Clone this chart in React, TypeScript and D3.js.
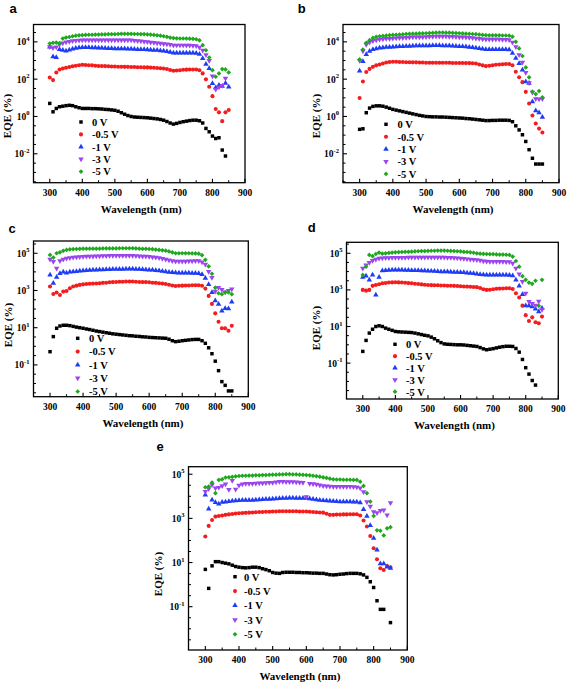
import React from "react";
import * as d3 from "d3";

// Wavelength grid (nm)
const WAVELENGTH = [
  300, 310, 320, 330, 340, 350, 360, 370, 380, 390,
  400, 410, 420, 430, 440, 450, 460, 470, 480, 490,
  500, 510, 520, 530, 540, 550, 560, 570, 580, 590,
  600, 610, 620, 630, 640, 650, 660, 670, 680, 690,
  700, 710, 720, 730, 740, 750, 760, 770, 780, 790,
  800, 810, 820, 830, 840, 850,
];

const X_TICKS = [300, 400, 500, 600, 700, 800, 900];
const X_MINOR = [250, 350, 450, 550, 650, 750, 850];
const SERIES_LABELS = ["0 V", "-0.5 V", "-1 V", "-3 V", "-5 V"];
const SERIES_COLORS = ["#000000", "#f41c1c", "#1f3cf5", "#9b45f0", "#1ea81e"];

// Values are log10 of EQE (%); null = no point
// ---- panel a ----
const A_0V = [
  0.70, 0.25, 0.43, 0.52, 0.55, 0.58, 0.60, 0.58, 0.52, 0.47,
  0.43, 0.43, 0.43, 0.42, 0.42, 0.41, 0.40, 0.38, 0.37, 0.35,
  0.33, 0.28, 0.20, 0.12, 0.05, 0.00, -0.03, -0.04, -0.05, -0.06,
  -0.07, -0.09, -0.11, -0.13, -0.16, -0.20, -0.27, -0.35, -0.41, -0.37,
  -0.32, -0.28, -0.25, -0.22, -0.20, -0.20, -0.23, -0.35, -0.64, -0.82,
  -1.05, -1.18, -1.14, -1.80, -2.12, null,
];
const A_05V = [
  2.09, 1.95, 2.36, 2.52, 2.57, 2.61, 2.65, 2.69, 2.72, 2.75,
  2.77, 2.76, 2.75, 2.74, 2.72, 2.71, 2.70, 2.70, 2.69, 2.68,
  2.68, 2.67, 2.67, 2.66, 2.66, 2.65, 2.65, 2.64, 2.64, 2.63,
  2.63, 2.62, 2.61, 2.60, 2.58, 2.57, 2.54, 2.49, 2.45, 2.46,
  2.48, 2.50, 2.51, 2.52, 2.52, 2.52, 2.48, 2.31, 1.99, 1.59,
  1.09, 0.40, 0.22, -0.25, 0.22, 0.35,
];
const A_1V = [
  3.73, 3.20, 3.16, 3.59, 3.55, 3.52, 3.57, 3.62, 3.66, 3.69,
  3.70, 3.70, 3.70, 3.69, 3.69, 3.68, 3.67, 3.66, 3.65, 3.65,
  3.64, 3.64, 3.63, 3.63, 3.62, 3.62, 3.61, 3.60, 3.60, 3.59,
  3.58, 3.57, 3.56, 3.55, 3.53, 3.52, 3.49, 3.45, 3.41, 3.41,
  3.41, 3.41, 3.41, 3.41, 3.41, 3.40, 3.34, 3.11, 2.80, 2.57,
  1.77, 1.54, 1.68, 1.62, 1.78, 1.58,
];
const A_3V = [
  3.73, 3.68, 3.72, 3.86, 3.94, 3.99, 4.02, 4.05, 4.07, 4.08,
  4.09, 4.09, 4.10, 4.10, 4.10, 4.10, 4.10, 4.10, 4.10, 4.10,
  4.10, 4.10, 4.10, 4.10, 4.09, 4.09, 4.07, 4.05, 4.04, 4.02,
  4.00, 3.98, 3.96, 3.94, 3.92, 3.90, 3.88, 3.85, 3.82, 3.82,
  3.82, 3.82, 3.81, 3.81, 3.80, 3.79, 3.70, 3.55, 3.30, 3.00,
  2.16, 1.45, 1.58, 1.66, 2.05, null,
];
const A_5V = [
  3.91, 3.95, 3.96, 3.93, 4.18, 4.23, 4.26, 4.30, 4.33, 4.35,
  4.36, 4.37, 4.38, 4.38, 4.39, 4.39, 4.40, 4.40, 4.41, 4.41,
  4.41, 4.42, 4.43, 4.43, 4.43, 4.43, 4.42, 4.42, 4.41, 4.41,
  4.40, 4.39, 4.37, 4.35, 4.33, 4.30, 4.27, 4.23, 4.20, 4.19,
  4.18, 4.18, 4.18, 4.17, 4.16, 4.14, 4.08, 3.82, 3.55, 3.16,
  2.48, 2.13, 2.31, 2.54, 2.52, 2.36,
];

// ---- panel b ----
const B_0V = [
  -0.69, -0.66, 0.20, 0.45, 0.54, 0.57, 0.57, 0.55, 0.50, 0.44,
  0.38, 0.34, 0.30, 0.26, 0.22, 0.18, 0.14, 0.10, 0.06, 0.03,
  0.00, -0.01, -0.02, -0.02, -0.03, -0.03, -0.04, -0.05, -0.06, -0.07,
  -0.08, -0.09, -0.11, -0.12, -0.14, -0.16, -0.18, -0.20, -0.22, -0.22,
  -0.21, -0.21, -0.20, -0.20, -0.20, -0.21, -0.28, -0.50, -0.72, -0.98,
  -1.34, -1.78, -2.24, -2.55, -2.55, -2.55,
];
const B_05V = [
  0.99, 1.87, 2.38, 2.55, 2.66, 2.74, 2.79, 2.84, 2.89, 2.92,
  2.93, 2.93, 2.92, 2.92, 2.91, 2.91, 2.90, 2.90, 2.89, 2.89,
  2.88, 2.88, 2.88, 2.88, 2.88, 2.88, 2.88, 2.88, 2.87, 2.87,
  2.87, 2.87, 2.86, 2.86, 2.85, 2.84, 2.79, 2.74, 2.70, 2.72,
  2.75, 2.77, 2.79, 2.80, 2.81, 2.81, 2.75, 2.40, 2.10, 1.84,
  1.32, 0.70, 0.05, -0.38, -0.65, -0.86,
];
const B_1V = [
  2.44, 2.95, 3.33, 3.50, 3.59, 3.64, 3.67, 3.69, 3.71, 3.72,
  3.73, 3.74, 3.75, 3.76, 3.77, 3.77, 3.78, 3.79, 3.79, 3.80,
  3.80, 3.80, 3.81, 3.81, 3.81, 3.80, 3.80, 3.79, 3.78, 3.77,
  3.76, 3.75, 3.74, 3.72, 3.70, 3.68, 3.65, 3.62, 3.59, 3.59,
  3.59, 3.59, 3.59, 3.59, 3.59, 3.58, 3.40, 3.12, 2.84, 2.50,
  1.86, 1.78, 0.80, 0.31, 0.20, -0.04,
];
const B_3V = [
  3.00, 3.50, 3.85, 3.98, 4.05, 4.10, 4.13, 4.15, 4.17, 4.18,
  4.19, 4.20, 4.21, 4.22, 4.23, 4.24, 4.25, 4.25, 4.26, 4.26,
  4.27, 4.28, 4.28, 4.29, 4.29, 4.29, 4.29, 4.28, 4.28, 4.27,
  4.26, 4.25, 4.24, 4.23, 4.21, 4.19, 4.17, 4.15, 4.14, 4.13,
  4.13, 4.13, 4.13, 4.12, 4.12, 4.11, 3.97, 3.73, 3.30, 2.90,
  2.35, 1.80, 1.30, 0.95, 0.93, 0.95,
];
const B_5V = [
  3.06, 3.59, 3.95, 4.09, 4.21, 4.27, 4.30, 4.32, 4.34, 4.36,
  4.37, 4.38, 4.39, 4.40, 4.42, 4.43, 4.44, 4.44, 4.45, 4.45,
  4.46, 4.47, 4.48, 4.49, 4.50, 4.50, 4.49, 4.49, 4.48, 4.47,
  4.46, 4.45, 4.44, 4.43, 4.42, 4.41, 4.39, 4.37, 4.36, 4.35,
  4.35, 4.35, 4.35, 4.34, 4.34, 4.33, 4.28, 4.00, 3.65, 3.24,
  2.63, 2.10, 1.33, 1.20, 1.36, 1.03,
];

// ---- panel c ----
const C_0V = [
  -0.29, 0.52, 0.97, 1.09, 1.13, 1.13, 1.11, 1.07, 1.03, 1.00,
  0.97, 0.93, 0.90, 0.86, 0.82, 0.79, 0.76, 0.73, 0.70, 0.67,
  0.65, 0.63, 0.61, 0.59, 0.57, 0.56, 0.54, 0.53, 0.51, 0.50,
  0.48, 0.47, 0.46, 0.45, 0.44, 0.43, 0.38, 0.30, 0.25, 0.27,
  0.30, 0.32, 0.34, 0.36, 0.37, 0.37, 0.30, 0.16, -0.08, -0.40,
  -0.80, -1.31, -1.90, -2.10, -2.40, -2.40,
];
const C_05V = [
  3.21, 2.81, 2.89, 2.76, 2.94, 2.97, 3.12, 3.21, 3.26, 3.30,
  3.33, 3.35, 3.36, 3.37, 3.38, 3.39, 3.41, 3.42, 3.44, 3.45,
  3.46, 3.47, 3.47, 3.48, 3.48, 3.48, 3.47, 3.46, 3.45, 3.45,
  3.44, 3.42, 3.41, 3.39, 3.37, 3.35, 3.31, 3.27, 3.24, 3.25,
  3.26, 3.27, 3.27, 3.28, 3.28, 3.28, 3.25, 3.10, 2.71, 2.28,
  1.77, 1.32, 0.97, 0.97, 0.84, 1.10,
];
const C_1V = [
  3.84, 3.39, 3.71, 3.92, 4.00, 3.95, 4.00, 4.01, 4.03, 4.05,
  4.07, 4.08, 4.09, 4.10, 4.11, 4.12, 4.12, 4.13, 4.13, 4.14,
  4.14, 4.15, 4.15, 4.16, 4.16, 4.16, 4.15, 4.14, 4.13, 4.12,
  4.11, 4.10, 4.08, 4.06, 4.04, 4.01, 3.99, 3.97, 3.96, 3.95,
  3.95, 3.94, 3.94, 3.93, 3.93, 3.92, 3.87, 3.66, 3.32, 2.90,
  2.45, 2.27, 1.90, 2.04, 2.02, 2.38,
];
const C_3V = [
  4.68, 4.55, 4.19, 4.60, 4.67, 4.73, 4.76, 4.78, 4.80, 4.81,
  4.82, 4.83, 4.84, 4.84, 4.85, 4.85, 4.86, 4.86, 4.87, 4.87,
  4.87, 4.87, 4.87, 4.87, 4.87, 4.87, 4.86, 4.85, 4.84, 4.83,
  4.82, 4.80, 4.78, 4.75, 4.72, 4.68, 4.64, 4.60, 4.57, 4.57,
  4.57, 4.57, 4.58, 4.58, 4.59, 4.59, 4.52, 4.40, 4.01, 3.69,
  2.95, 3.15, 3.05, 2.92, 3.00, 3.08,
];
const C_5V = [
  4.91, 4.77, 5.00, 5.05, 5.13, 5.18, 5.21, 5.22, 5.23, 5.24,
  5.25, 5.25, 5.25, 5.25, 5.25, 5.25, 5.26, 5.26, 5.26, 5.26,
  5.26, 5.27, 5.27, 5.27, 5.27, 5.27, 5.26, 5.25, 5.24, 5.24,
  5.23, 5.22, 5.20, 5.18, 5.16, 5.14, 5.10, 5.05, 5.00, 5.00,
  5.00, 5.00, 5.00, 4.99, 4.99, 4.98, 4.90, 4.65, 4.30, 3.90,
  3.15, 2.85, 2.80, 2.90, 2.90, 2.80,
];

// ---- panel d ----
const D_0V = [
  -0.36, 0.24, 0.64, 0.85, 1.00, 1.04, 1.00, 0.91, 0.85, 0.79,
  0.73, 0.71, 0.70, 0.69, 0.68, 0.67, 0.64, 0.60, 0.56, 0.52,
  0.49, 0.42, 0.33, 0.22, 0.12, 0.05, 0.03, 0.02, 0.01, 0.00,
  0.00, -0.01, -0.03, -0.05, -0.07, -0.09, -0.15, -0.22, -0.27, -0.24,
  -0.21, -0.17, -0.13, -0.10, -0.08, -0.08, -0.09, -0.20, -0.40, -0.80,
  -1.25, -1.60, -1.95, -2.20, null, null,
];
const D_05V = [
  3.00, 2.96, 3.00, 3.22, 3.27, 3.31, 3.36, 3.38, 3.40, 3.41,
  3.42, 3.41, 3.40, 3.39, 3.37, 3.36, 3.34, 3.32, 3.30, 3.28,
  3.27, 3.26, 3.25, 3.25, 3.24, 3.24, 3.23, 3.23, 3.22, 3.21,
  3.20, 3.19, 3.18, 3.17, 3.16, 3.15, 3.10, 3.04, 3.00, 3.01,
  3.04, 3.06, 3.07, 3.08, 3.09, 3.09, 3.05, 2.82, 2.58, 2.14,
  1.62, 1.30, 1.50, 1.23, 1.18, 1.54,
];
const D_1V = [
  3.69, 3.76, 3.55, 3.82, 2.73, 3.69, 4.05, 4.07, 4.08, 4.09,
  4.09, 4.09, 4.09, 4.08, 4.08, 4.07, 4.07, 4.06, 4.05, 4.05,
  4.04, 4.03, 4.02, 4.01, 4.00, 4.00, 3.99, 3.98, 3.97, 3.97,
  3.96, 3.95, 3.93, 3.92, 3.90, 3.87, 3.85, 3.83, 3.82, 3.82,
  3.82, 3.82, 3.82, 3.82, 3.82, 3.81, 3.78, 3.55, 3.22, 2.75,
  2.14, 2.14, 2.08, 1.96, 1.81, 2.00,
];
const D_3V = [
  4.18, 4.36, 4.49, 4.60, 4.67, 4.73, 4.74, 4.75, 4.75, 4.76,
  4.76, 4.77, 4.77, 4.77, 4.78, 4.78, 4.78, 4.78, 4.78, 4.78,
  4.78, 4.78, 4.78, 4.78, 4.78, 4.78, 4.77, 4.76, 4.75, 4.74,
  4.73, 4.71, 4.69, 4.67, 4.66, 4.64, 4.61, 4.58, 4.56, 4.55,
  4.55, 4.54, 4.54, 4.54, 4.53, 4.53, 4.45, 4.18, 3.86, 3.45,
  2.81, 2.36, 2.25, 2.15, 2.38, 1.92,
];
const D_5V = [
  3.82, 4.27, 4.91, 4.85, 4.96, 5.04, 4.98, 5.00, 5.02, 5.04,
  5.05, 5.06, 5.07, 5.08, 5.08, 5.09, 5.10, 5.11, 5.12, 5.12,
  5.13, 5.14, 5.14, 5.15, 5.15, 5.15, 5.14, 5.13, 5.12, 5.11,
  5.10, 5.08, 5.07, 5.05, 5.03, 5.00, 4.98, 4.97, 4.96, 4.95,
  4.95, 4.94, 4.93, 4.93, 4.92, 4.91, 4.82, 4.58, 4.27, 3.75,
  3.55, 3.40, 3.33, 3.50, 2.13, 3.55,
];

// ---- panel e ----
const E_0V = [
  0.69, -0.17, 0.85, 1.04, 1.04, 1.00, 0.97, 0.94, 0.88, 0.82,
  0.79, 0.77, 0.76, 0.77, 0.79, 0.79, 0.77, 0.72, 0.68, 0.63,
  0.55, 0.52, 0.51, 0.55, 0.56, 0.56, 0.56, 0.55, 0.55, 0.54,
  0.54, 0.53, 0.52, 0.52, 0.51, 0.51, 0.48, 0.45, 0.44, 0.45,
  0.47, 0.48, 0.50, 0.51, 0.51, 0.51, 0.49, 0.44, 0.33, 0.13,
  -0.13, -0.73, -1.12, -1.12, null, -1.72,
];
const E_05V = [
  2.18, 2.66, 2.93, 3.08, 3.11, 3.13, 3.16, 3.18, 3.20, 3.22,
  3.23, 3.24, 3.25, 3.26, 3.27, 3.28, 3.29, 3.29, 3.30, 3.30,
  3.31, 3.31, 3.32, 3.32, 3.32, 3.32, 3.32, 3.32, 3.31, 3.31,
  3.31, 3.30, 3.29, 3.28, 3.27, 3.26, 3.21, 3.16, 3.16, 3.17,
  3.17, 3.18, 3.18, 3.19, 3.19, 3.19, 3.13, 2.90, 2.63, 2.20,
  1.65, 1.15, 0.74, 0.66, 0.84, 0.78,
];
const E_1V = [
  4.06, 3.43, 3.84, 3.72, 3.66, 3.73, 3.75, 3.77, 3.79, 3.80,
  3.81, 3.82, 3.82, 3.83, 3.83, 3.84, 3.85, 3.86, 3.87, 3.87,
  3.88, 3.89, 3.90, 3.91, 3.92, 3.93, 3.93, 3.92, 3.92, 3.91,
  3.91, 3.89, 3.87, 3.85, 3.83, 3.81, 3.80, 3.79, 3.78, 3.77,
  3.76, 3.76, 3.76, 3.76, 3.75, 3.75, 3.71, 3.41, 3.10, 2.68,
  2.10, 1.57, 0.95, 0.95, 0.80, 0.75,
];
const E_3V = [
  4.21, 4.34, 4.52, 4.37, 4.40, 4.47, 4.55, 4.30, 4.71, 4.32,
  4.50, 4.55, 4.57, 4.58, 4.58, 4.59, 4.60, 4.60, 4.61, 4.62,
  4.62, 4.64, 4.67, 4.67, 4.66, 4.66, 4.65, 4.64, 4.63, 4.62,
  3.97, 4.58, 4.56, 4.54, 4.51, 4.47, 4.46, 4.45, 4.44, 4.44,
  4.44, 4.44, 4.44, 4.44, 4.43, 4.42, 4.37, 4.20, 3.75, 3.55,
  3.30, 3.25, 3.35, 3.38, 3.15, 3.70,
];
const E_5V = [
  4.41, 4.44, 4.62, 4.14, 4.74, 4.77, 4.85, 4.86, 4.88, 4.90,
  4.92, 4.93, 4.93, 4.94, 4.94, 4.95, 4.95, 4.96, 4.96, 4.97,
  4.98, 4.98, 4.99, 4.99, 5.00, 5.00, 4.99, 4.99, 4.98, 4.97,
  4.96, 4.95, 4.93, 4.91, 4.89, 4.86, 4.83, 4.80, 4.77, 4.76,
  4.76, 4.75, 4.75, 4.75, 4.74, 4.74, 4.66, 4.47, 4.14, 3.76,
  3.11, 2.46, 2.44, 2.23, 2.55, 2.60,
];

// y-axis labelled decades
const Y_LABELS_AB = [-2, 0, 2, 4];
const Y_LABELS_CDE = [-1, 1, 3, 5];

type PanelCfg = {
  letter: string;
  letterX: number;
  letterY: number;
  x0: number;
  x1: number;
  y0: number;
  y1: number;
  expLo: number;
  expHi: number;
  yLabels: number[];
  series: (number | null)[][];
  legSX: number;
  legTX: number;
  legY0: number;
  legDY: number;
  titleX: number;
  titleY: number;
};

const PANELS: PanelCfg[] = [
  {
    letter: "a", letterX: 13, letterY: 8,
    x0: 33.5, x1: 245, y0: 24.5, y1: 182.7, expLo: -3.55, expHi: 4.93,
    yLabels: Y_LABELS_AB, series: [A_0V, A_05V, A_1V, A_3V, A_5V],
    legSX: 81, legTX: 92, legY0: 122, legDY: 12.4, titleX: 7.5, titleY: 116,
  },
  {
    letter: "b", letterX: 301.7, letterY: 8,
    x0: 343, x1: 559, y0: 24.5, y1: 182.7, expLo: -3.55, expHi: 4.93,
    yLabels: Y_LABELS_AB, series: [B_0V, B_05V, B_1V, B_3V, B_5V],
    legSX: 386, legTX: 397.5, legY0: 124.3, legDY: 12.4, titleX: 316, titleY: 116,
  },
  {
    letter: "c", letterX: 12, letterY: 228,
    x0: 33.5, x1: 248.3, y0: 241, y1: 396.7, expLo: -2.71, expHi: 5.66,
    yLabels: Y_LABELS_CDE, series: [C_0V, C_05V, C_1V, C_3V, C_5V],
    legSX: 77.7, legTX: 89, legY0: 338.3, legDY: 13.3, titleX: 8.3, titleY: 325,
  },
  {
    letter: "d", letterX: 311.7, letterY: 227.3,
    x0: 346.5, x1: 558.3, y0: 242.3, y1: 399, expLo: -2.96, expHi: 5.6,
    yLabels: Y_LABELS_CDE, series: [D_0V, D_05V, D_1V, D_3V, D_5V],
    legSX: 395, legTX: 406, legY0: 344.3, legDY: 11.85, titleX: 316.7, titleY: 328,
  },
  {
    letter: "e", letterX: 160, letterY: 446,
    x0: 188.5, x1: 407.3, y0: 466.7, y1: 650, expLo: -2.96, expHi: 5.34,
    yLabels: Y_LABELS_CDE, series: [E_0V, E_05V, E_1V, E_3V, E_5V],
    legSX: 235, legTX: 244, legY0: 576.7, legDY: 14.4, titleX: 158.3, titleY: 574,
  },
];

const SERIF = "'Liberation Serif', 'Times New Roman', serif";
const SANS = "'Liberation Sans', Arial, sans-serif";

const symbolPaths = [
  d3.symbol(d3.symbolSquare, 12)(),
  d3.symbol(d3.symbolCircle, 13)(),
  d3.symbol(d3.symbolTriangle, 13)(),
  d3.symbol(d3.symbolTriangle, 13)(),
  d3.symbol(d3.symbolSquare, 11)(),
];
const symbolRot = [0, 0, 0, 180, 45];

function Marker({ i, x, y }: { i: number; x: number; y: number }) {
  return (
    <path
      d={symbolPaths[i] as string}
      transform={`translate(${x},${y})${symbolRot[i] ? ` rotate(${symbolRot[i]})` : ""}`}
      fill={SERIES_COLORS[i]}
    />
  );
}

function Panel({ p }: { p: PanelCfg }) {
  const x = d3.scaleLinear().domain([250, 900]).range([p.x0, p.x1]);
  const y = d3.scaleLog().domain([Math.pow(10, p.expLo), Math.pow(10, p.expHi)]).range([p.y1, p.y0]);
  const yMinor: number[] = [];
  for (let e = Math.ceil(p.expLo * 2) / 2; e <= p.expHi; e += 0.5) {
    if (!p.yLabels.includes(e)) yMinor.push(e);
  }
  const ly = (e: number) => y(Math.pow(10, e));
  return (
    <g>
      <text x={p.letterX} y={p.letterY + 4.5} textAnchor="middle" fontFamily={SANS} fontWeight="bold" fontSize={13}>
        {p.letter}
      </text>
      {/* data */}
      {p.series.map((s, si) => (
        <g key={si}>
          {s.map((v, k) =>
            v === null ? null : (
              <Marker key={k} i={si} x={x(WAVELENGTH[k])} y={y(Math.pow(10, v))} />
            )
          )}
        </g>
      ))}
      {/* frame */}
      <rect x={p.x0} y={p.y0} width={p.x1 - p.x0} height={p.y1 - p.y0} fill="none" stroke="#000" strokeWidth={1.3} />
      {/* x ticks */}
      {X_TICKS.map((t) => (
        <g key={t}>
          <line x1={x(t)} x2={x(t)} y1={p.y1} y2={p.y1 - 4} stroke="#000" strokeWidth={1.1} />
          <text x={x(t)} y={p.y1 + 13} textAnchor="middle" fontFamily={SERIF} fontWeight="bold" fontSize={9.5}>
            {t}
          </text>
        </g>
      ))}
      {X_MINOR.map((t) => (
        <line key={t} x1={x(t)} x2={x(t)} y1={p.y1} y2={p.y1 - 2.5} stroke="#000" strokeWidth={1} />
      ))}
      {/* y ticks */}
      {p.yLabels.map((e) => (
        <g key={e}>
          <line x1={p.x0} x2={p.x0 + 4} y1={ly(e)} y2={ly(e)} stroke="#000" strokeWidth={1.1} />
          <text x={p.x0 - 4} y={ly(e) + 3.5} textAnchor="end" fontFamily={SERIF} fontWeight="bold" fontSize={9.5}>
            10
            <tspan fontSize={6.5} dy={-4.5}>{e}</tspan>
          </text>
        </g>
      ))}
      {yMinor.map((e) => (
        <line key={e} x1={p.x0} x2={p.x0 + 2.5} y1={ly(e)} y2={ly(e)} stroke="#000" strokeWidth={1} />
      ))}
      {/* axis titles */}
      <text
        x={(p.x0 + p.x1) / 2 + 2}
        y={p.y1 + 30}
        textAnchor="middle"
        fontFamily={SERIF}
        fontWeight="bold"
        fontSize={11}
      >
        Wavelength (nm)
      </text>
      <text
        transform={`translate(${p.titleX + 3.5},${p.titleY}) rotate(-90)`}
        textAnchor="middle"
        fontFamily={SERIF}
        fontWeight="bold"
        fontSize={11}
      >
        EQE (%)
      </text>
      {/* legend */}
      {SERIES_LABELS.map((lab, i) => (
        <g key={lab}>
          <Marker i={i} x={p.legSX} y={p.legY0 + i * p.legDY} />
          <text x={p.legTX} y={p.legY0 + i * p.legDY + 3.8} fontFamily={SERIF} fontWeight="bold" fontSize={10.5}>
            {lab}
          </text>
        </g>
      ))}
    </g>
  );
}

export default function App() {
  return (
    <div style={{ position: "absolute", left: 0, top: 0, width: 567, height: 688, background: "#fff" }}>
      <svg width={567} height={688} viewBox="0 0 567 688" style={{ display: "block" }}>
        <rect width={567} height={688} fill="#fff" />
        {PANELS.map((p) => (
          <Panel key={p.letter} p={p} />
        ))}
      </svg>
    </div>
  );
}
